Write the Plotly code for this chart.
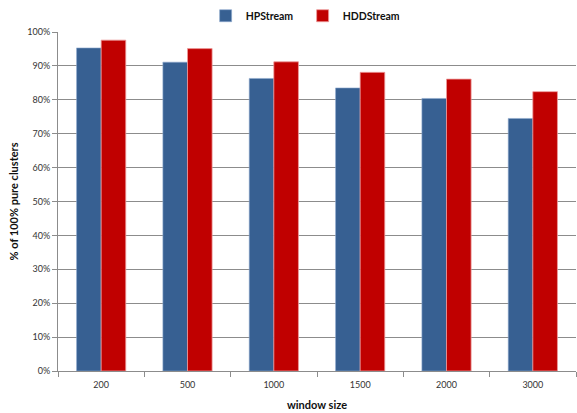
import plotly.graph_objects as go

window_sizes = ["200", "500", "1000", "1500", "2000", "3000"]
hpstream = [0.953, 0.911, 0.863, 0.835, 0.804, 0.745]
hddstream = [0.976, 0.951, 0.912, 0.881, 0.861, 0.824]
y_ticks = [0, 0.1, 0.2, 0.3, 0.4, 0.5, 0.6, 0.7, 0.8, 0.9, 1.0]
y_tick_labels = ["0%", "10%", "20%", "30%", "40%", "50%", "60%", "70%", "80%", "90%", "100%"]

FONT = "Lato, 'Open Sans', sans-serif"

fig = go.Figure()
fig.add_trace(go.Bar(
    name="HPStream", x=window_sizes, y=hpstream,
    marker=dict(color="#376092", line=dict(color="#8EA9CF", width=0.6)),
))
fig.add_trace(go.Bar(
    name="HDDStream", x=window_sizes, y=hddstream,
    marker=dict(color="#C00000", line=dict(color="#EE9A9A", width=0.8)),
))

fig.update_layout(
    width=577, height=413,
    margin=dict(l=58, r=1, t=32, b=42),
    paper_bgcolor="white", plot_bgcolor="white",
    barmode="group", bargap=0.43, bargroupgap=0,
    font=dict(family=FONT, size=10, color="#333333"),
    legend=dict(
        orientation="h", x=0.285, xanchor="left", y=1.048, yanchor="middle",
        yref="paper", font=dict(family=FONT, size=10.5, color="#111111", weight="bold"),
        itemwidth=30, traceorder="normal", entrywidth=52,
    ),
    xaxis=dict(
        type="category",
        showline=True, linecolor="#8C8C8C", linewidth=1,
        ticks="outside", tickson="boundaries", ticklen=5, tickcolor="#8C8C8C",
        tickfont=dict(size=9, color="#333333"), ticklabelstandoff=5,
        title=dict(text="window size", font=dict(size=11, color="#111111", weight="bold"), standoff=12),
    ),
    yaxis=dict(
        range=[0, 1.0], tickvals=y_ticks, ticktext=y_tick_labels,
        showgrid=True, gridcolor="#8C8C8C", gridwidth=1,
        showline=True, linecolor="#8C8C8C", linewidth=1,
        ticks="outside", ticklen=5, tickcolor="#8C8C8C",
        tickfont=dict(size=9, color="#333333"),
        zeroline=False,
        title=dict(text="% of 100% pure clusters", font=dict(size=11, color="#111111", weight="bold"), standoff=6),
    ),
)

fig.write_html("out.html")
